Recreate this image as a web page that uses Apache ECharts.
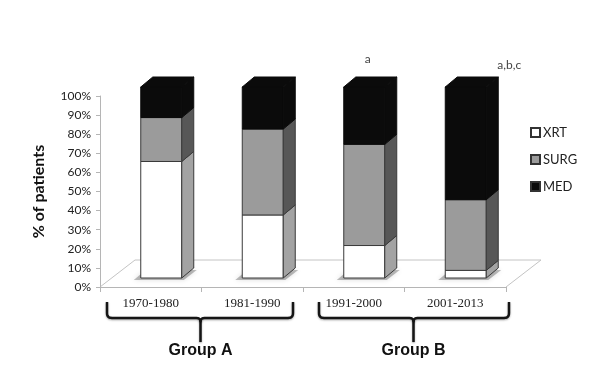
<!DOCTYPE html>
<html><head><meta charset="utf-8">
<script src="https://cdn.jsdelivr.net/npm/echarts@6.0.0/dist/echarts.min.js"></script>
<style>html,body{margin:0;padding:0;background:#fff}#c{width:600px;height:380px}</style>
</head><body><div id="c"></div>
<script>
// ---- data ----
const categories = ['1970-1980', '1981-1990', '1991-2000', '2001-2013'];
const seriesNames = ['XRT', 'SURG', 'MED'];
const xrt  = [61, 33, 17, 4];
const surg = [23, 45, 53, 37];
const med  = [16, 22, 30, 59];
const yTickValues = [0, 10, 20, 30, 40, 50, 60, 70, 80, 90, 100];
const annotations = ['', '', 'a', 'a,b,c'];
const groupNames = ['Group A', 'Group B'];

// ---- styling ----
const faceColors = ['#ffffff', '#9b9b9b', '#0b0b0b'];
const sideColors = ['#a3a3a3', '#575757', '#0b0b0b'];
const DX = 12, DY = -10;      // depth of bar box
const FX0 = -10, FX1 = 31, FDY = -9; // front face placement relative to category center
const EDGE = '#3a3a3a';

const stacks = [xrt, surg, med];
function seriesData(k) {
  return categories.map((c, i) => {
    let base = 0;
    for (let j = 0; j < k; j++) base += stacks[j][i];
    return [i, base, base + stacks[k][i]];
  });
}

function makeRender(k) {
  const isTop = k === stacks.length - 1;
  const isBottom = k === 0;
  return function (params, api) {
    const i = api.value(0), b = api.value(1), t = api.value(2);
    const pb = api.coord([i, b]), pt = api.coord([i, t]);
    const L = pb[0] + FX0, R = pb[0] + FX1;
    const yb = pb[1] + FDY, yt = pt[1] + FDY;
    const ch = [];
    if (isBottom) {
      ch.push({ type: 'polygon', shape: { points: [[L - 7, yb + 2], [R + 2, yb + 2], [R + DX + 3, yb + DY + 2], [L + DX - 7, yb + DY + 2]] },
        style: { fill: 'rgba(0,0,0,0.25)', shadowBlur: 5, shadowColor: 'rgba(0,0,0,0.5)' }, silent: true });
    }
    const line = isTop ? '#0b0b0b' : EDGE;
    ch.push({ type: 'polygon', shape: { points: [[L, yt], [R, yt], [R, yb], [L, yb]] },
      style: { fill: faceColors[k], stroke: line, lineWidth: 1 } });
    ch.push({ type: 'polygon', shape: { points: [[R, yb], [R, yt], [R + DX, yt + DY], [R + DX, yb + DY]] },
      style: { fill: sideColors[k], stroke: line, lineWidth: 1 } });
    if (isTop) {
      ch.push({ type: 'polygon', shape: { points: [[L, yt], [R, yt], [R + DX, yt + DY], [L + DX, yt + DY]] },
        style: { fill: faceColors[k], stroke: line, lineWidth: 1 } });
    }
    return { type: 'group', children: ch };
  };
}

const chart = echarts.init(document.getElementById('c'), null, { renderer: 'canvas' });
const option = {
  animation: false,
  backgroundColor: '#ffffff',
  grid: { left: 100, right: 94, top: 96, bottom: 93, outerBoundsMode: 'none' },
  legend: {
    data: seriesNames, orient: 'vertical', left: 525, top: 121,
    itemWidth: 9, itemHeight: 9, itemGap: 14, icon: 'rect',
    textStyle: { fontFamily: 'Lato', fontSize: 13, color: '#222', padding: [0, 0, 0, -2] }
  },
  xAxis: {
    type: 'category', data: categories,
    axisLine: { lineStyle: { color: '#b5b5b5', width: 1 } },
    axisTick: { show: true, length: 5, lineStyle: { color: '#b5b5b5' } },
    axisLabel: { fontFamily: 'Liberation Serif', fontSize: 13, color: '#222', margin: 10 },
    splitLine: { show: false }
  },
  yAxis: {
    type: 'value', min: 0, max: 100, interval: 10,
    name: '% of patients', nameLocation: 'middle', nameRotate: 90, nameGap: 53,
    nameTextStyle: { fontFamily: 'Lato', fontWeight: 'bold', fontSize: 16, color: '#111' },
    axisLine: { show: true, lineStyle: { color: '#b5b5b5', width: 1 } },
    axisTick: { show: true, length: 4, lineStyle: { color: '#b5b5b5' } },
    axisLabel: { fontFamily: 'Lato', fontSize: 12, color: '#222', margin: 9,
      formatter: v => (yTickValues.indexOf(v) >= 0 ? v + '%' : '') },
    splitLine: { show: false }
  },
  series: seriesNames.map((n, k) => ({
    type: 'custom', name: n, data: seriesData(k),
    encode: { x: 0, y: [1, 2] },
    itemStyle: { color: faceColors[k], borderColor: '#333', borderWidth: 1 },
    renderItem: makeRender(k)
  }))
};
chart.setOption(option);

// ---- decorations positioned from the axes ----
function px(i, v) { return chart.convertToPixel({ gridIndex: 0 }, [i, v]); }
const c0 = px(0, 0), c1 = px(1, 0);
const band = c1[0] - c0[0];
function bound(k) { return c0[0] - band / 2 + k * band; }
const y0 = c0[1];
const yTop = px(0, 100)[1];
const FLX = 35, FLY = -27;
const gfx = [];
// floor outline
gfx.push({ type: 'polyline', z: 0, shape: { points: [[bound(0), y0], [bound(0) + FLX, y0 + FLY], [bound(4) + FLX, y0 + FLY], [bound(4), y0]] },
  style: { stroke: '#c4c4c4', lineWidth: 1, fill: null } });
// annotations
annotations.forEach((a, i) => {
  if (!a) return;
  const c = px(i, 100);
  const off = i === 3 ? [54, -31] : [14, -37];
  gfx.push({ type: 'text', x: c[0] + off[0], y: yTop + off[1],
    style: { text: a, fontFamily: 'Lato', fontSize: 12, fill: '#444', align: 'center', verticalAlign: 'middle' } });
});
// braces (rounded corners approximated by quadratic curve points)
function quad(p0, p1, p2, n) {
  const out = [];
  for (let s = 1; s <= n; s++) {
    const t = s / n, u = 1 - t;
    out.push([u * u * p0[0] + 2 * u * t * p1[0] + t * t * p2[0], u * u * p0[1] + 2 * u * t * p1[1] + t * t * p2[1]]);
  }
  return out;
}
const braces = [
  { x0: bound(0) + 7, x1: bound(2) - 10, xs: bound(1) - 1 },
  { x0: bound(2) + 16, x1: bound(4) + 3, xs: bound(3) + 9 }
];
const braceStyle = { fill: null, stroke: '#151515', lineWidth: 2.5, lineJoin: 'round', lineCap: 'butt',
  shadowBlur: 2, shadowColor: 'rgba(0,0,0,0.35)', shadowOffsetY: 1 };
braces.forEach((b, g) => {
  const yt = y0 + 15, yl = y0 + 31, ys = y0 + 55, r = 5;
  let left = [[b.x0, yt], [b.x0, yl - r]];
  left = left.concat(quad([b.x0, yl - r], [b.x0, yl], [b.x0 + r, yl], 6));
  left.push([b.xs - 4, yl]);
  left = left.concat(quad([b.xs - 4, yl], [b.xs, yl], [b.xs, yl + 4], 5));
  left.push([b.xs, ys]);
  let right = [[b.xs, yl + 4]];
  right = right.concat(quad([b.xs, yl + 4], [b.xs, yl], [b.xs + 4, yl], 5));
  right.push([b.x1 - r, yl]);
  right = right.concat(quad([b.x1 - r, yl], [b.x1, yl], [b.x1, yl - r], 6));
  right.push([b.x1, yt]);
  gfx.push({ type: 'polyline', shape: { points: left }, style: braceStyle });
  gfx.push({ type: 'polyline', shape: { points: right }, style: braceStyle });
  gfx.push({ type: 'text', x: b.xs, y: y0 + 64,
    style: { text: groupNames[g], fontFamily: 'Liberation Sans', fontWeight: 'bold', fontSize: 16, fill: '#111', align: 'center', verticalAlign: 'middle' } });
});
chart.setOption({ graphic: { elements: gfx } });
</script>
</body></html>
